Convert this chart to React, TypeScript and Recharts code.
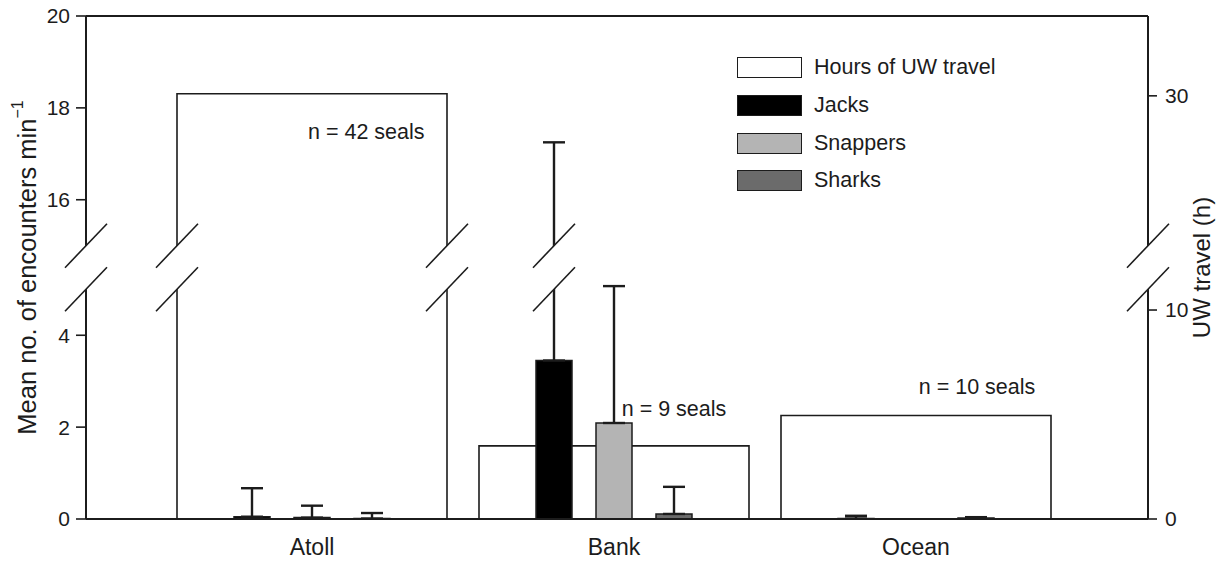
import React from "react";
import {
  ComposedChart,
  Bar,
  XAxis,
  YAxis,
  ErrorBar,
  ReferenceLine,
  ReferenceDot,
  Legend,
  Label,
  LabelList,
} from "recharts";

const sites = ["Atoll", "Bank", "Ocean"];
const seriesNames = ["Hours of UW travel", "Jacks", "Snappers", "Sharks"];
const travelHours = [30.1, 3.5, 4.95];
const jacksMean = [0.05, 3.45, 0.01];
const jacksUpper = [0.67, 17.25, 0.07];
const snappersMean = [0.03, 2.09, 0];
const snappersUpper = [0.29, 5.07, 0];
const sharksMean = [0.01, 0.11, 0.02];
const sharksUpper = [0.13, 0.7, 0.04];
const sealCounts = ["n = 42 seals", "n = 9 seals", "n = 10 seals"];
const leftTicks = [0, 2, 4, 16, 18, 20];
const rightTicks = [0, 10, 30];

// broken axes: left skips 5..15, right skips ~11..23
const L_CUT = 10;
const L_SHIFT = 9.05;
const L_MAX = 20 - L_SHIFT;
const GAP_LO = 5;
const GAP_HI = 15 - L_SHIFT;
const R_CUT = 20;
const R_SHIFT = 9.75;
const R_MAX = 24.07;

const toLeft = (v: number) => (v < L_CUT ? v : v - L_SHIFT);
const fromLeft = (t: number) => (t < GAP_LO + 0.5 ? t : t + L_SHIFT);
const toRight = (h: number) => (h < R_CUT ? h : h - R_SHIFT);
const fromRight = (u: number) => (u < 15 ? u : u + R_SHIFT);

const W = 1218;
const H = 562;
const MARGIN = { top: 16, right: 10, bottom: 3, left: 26 };
const AXIS_W = 60;
const X_AXIS_H = 40;
const PLOT_H = H - MARGIN.top - MARGIN.bottom - X_AXIS_H;
const PX_PER_UNIT = PLOT_H / L_MAX;
const WHITE_W = 270;
const BAR_W = 36;
const BAR_GAP = 24;
const INK = "#1c1c1c";
const FONT = "'Liberation Sans', Arial, Helvetica, sans-serif";
const BREAK_MID = (GAP_LO + GAP_HI) / 2;

const data = sites.map((site, i) => ({
  site,
  hours: toRight(travelHours[i]),
  jacks: toLeft(jacksMean[i]),
  jacksErr: [0, toLeft(jacksUpper[i]) - toLeft(jacksMean[i])],
  snappers: toLeft(snappersMean[i]),
  snappersErr: [0, toLeft(snappersUpper[i]) - toLeft(snappersMean[i])],
  sharks: toLeft(sharksMean[i]),
  sharksErr: [0, toLeft(sharksUpper[i]) - toLeft(sharksMean[i])],
  seals: sealCounts[i],
}));

// where the // marks go, besides the two axis lines
const breakMarks: { site: string; axis: string; dx: number }[] = [];
sites.forEach((site, i) => {
  if (travelHours[i] >= R_CUT) {
    breakMarks.push({ site, axis: "w", dx: -WHITE_W / 2 });
    breakMarks.push({ site, axis: "w", dx: WHITE_W / 2 });
  }
  [jacksUpper, snappersUpper, sharksUpper].forEach((arr, k) => {
    if (arr[i] >= L_CUT) breakMarks.push({ site, axis: "c", dx: (k - 1) * (BAR_W + BAR_GAP) });
  });
});

const sealLabelPos = [
  { dx: -4, dy: 45, anchor: "start" },
  { dx: 60, dy: -30, anchor: "middle" },
  { dx: 61, dy: -22, anchor: "middle" },
];

function BreakMark({ cx, cy }: { cx: number; cy: number }) {
  const half = ((GAP_HI - GAP_LO) / 2) * PX_PER_UNIT;
  const s = 21;
  const r = 22;
  const yHi = cy - half;
  const yLo = cy + half;
  return (
    <g>
      <polygon
        points={`${cx - s},${yHi + r} ${cx + s},${yHi - r} ${cx + s},${yLo - r} ${cx - s},${yLo + r}`}
        fill="#fff"
      />
      <line x1={cx - s} y1={yHi + r} x2={cx + s} y2={yHi - r} stroke={INK} strokeWidth={1.6} />
      <line x1={cx - s} y1={yLo + r} x2={cx + s} y2={yLo - r} stroke={INK} strokeWidth={1.6} />
    </g>
  );
}

const renderLegend = (props: any) => {
  const items = [...props.payload].sort(
    (a: any, b: any) => seriesNames.indexOf(a.value) - seriesNames.indexOf(b.value)
  );
  return (
    <div style={{ fontFamily: FONT, fontSize: 21.5, color: INK }}>
      {items.map((entry: any) => (
        <div key={entry.value} style={{ display: "flex", alignItems: "center", height: 37.7 }}>
          <span
            style={{
              boxSizing: "border-box",
              width: 65,
              height: 21,
              background: entry.color,
              border: `1.5px solid ${INK}`,
              marginRight: 12,
            }}
          />
          <span>{entry.value}</span>
        </div>
      ))}
    </div>
  );
};

const renderSealLabel = (props: any) => {
  const { x, y, width, value, index } = props;
  const pos = sealLabelPos[index];
  return (
    <text
      x={x + width / 2 + pos.dx}
      y={y + pos.dy}
      textAnchor={pos.anchor}
      fontSize={21.5}
      fontFamily={FONT}
      fill={INK}
    >
      {value}
    </text>
  );
};

const LeftTitle = (props: any) => {
  const { viewBox } = props;
  const cx = viewBox.x + 1;
  const cy = viewBox.y + viewBox.height / 2;
  return (
    <text
      x={cx}
      y={cy}
      transform={`rotate(-90 ${cx} ${cy})`}
      textAnchor="middle"
      dominantBaseline="central"
      fontSize={25.5}
      fontFamily={FONT}
      fill={INK}
    >
      Mean no. of encounters min
      <tspan dy={-10} fontSize={16}>
        −1
      </tspan>
    </text>
  );
};

const RightTitle = (props: any) => {
  const { viewBox } = props;
  const cx = viewBox.x + 53;
  const cy = viewBox.y + viewBox.height / 2;
  return (
    <text
      x={cx}
      y={cy}
      transform={`rotate(-90 ${cx} ${cy})`}
      textAnchor="middle"
      dominantBaseline="central"
      fontSize={24}
      fontFamily={FONT}
      fill={INK}
    >
      UW travel (h)
    </text>
  );
};

const tickStyle = { fill: INK, fontSize: 21, fontFamily: FONT };

export default function App() {
  return (
    <div
      style={{
        position: "absolute",
        left: 0,
        top: 0,
        width: W,
        height: H,
        background: "#fff",
        fontFamily: FONT,
      }}
    >
      <ComposedChart width={W} height={H} data={data} margin={MARGIN} barGap={BAR_GAP}>
        <XAxis
          xAxisId="c"
          dataKey="site"
          height={X_AXIS_H}
          padding={{ left: 75, right: 81 }}
          tickLine={false}
          tickSize={0}
          tickMargin={20}
          axisLine={{ stroke: INK, strokeWidth: 2 }}
          tick={{ ...tickStyle, fontSize: 23 }}
        />
        <XAxis xAxisId="w" dataKey="site" hide padding={{ left: 75, right: 81 }} />
        <YAxis
          yAxisId="left"
          width={AXIS_W}
          domain={[0, L_MAX]}
          allowDataOverflow
          ticks={leftTicks.map(toLeft)}
          interval={0}
          tickFormatter={(t: number) => String(Math.round(fromLeft(t)))}
          tickSize={10}
          tickMargin={6}
          axisLine={{ stroke: INK, strokeWidth: 2 }}
          tickLine={{ stroke: INK, strokeWidth: 1.6 }}
          tick={tickStyle}
        >
          <Label content={LeftTitle} />
        </YAxis>
        <YAxis
          yAxisId="right"
          orientation="right"
          width={AXIS_W}
          domain={[0, R_MAX]}
          allowDataOverflow
          ticks={rightTicks.map(toRight)}
          interval={0}
          tickFormatter={(u: number) => String(Math.round(fromRight(u)))}
          tickSize={9}
          tickMargin={8}
          axisLine={{ stroke: INK, strokeWidth: 2 }}
          tickLine={{ stroke: INK, strokeWidth: 1.6 }}
          tick={tickStyle}
        >
          <Label content={RightTitle} />
        </YAxis>
        <Legend
          layout="vertical"
          align="center"
          verticalAlign="middle"
          content={renderLegend}
          wrapperStyle={{ left: 737, top: 49, width: 320 }}
        />
        <Bar
          xAxisId="w"
          yAxisId="right"
          dataKey="hours"
          name={seriesNames[0]}
          barSize={WHITE_W}
          fill="#ffffff"
          stroke={INK}
          strokeWidth={1.6}
          isAnimationActive={false}
        >
          <LabelList dataKey="seals" content={renderSealLabel} />
        </Bar>
        <Bar
          xAxisId="c"
          yAxisId="left"
          dataKey="jacks"
          name={seriesNames[1]}
          barSize={BAR_W}
          fill="#000000"
          stroke={INK}
          strokeWidth={1.5}
          isAnimationActive={false}
        >
          <ErrorBar dataKey="jacksErr" direction="y" width={11} stroke={INK} strokeWidth={2.4} />
        </Bar>
        <Bar
          xAxisId="c"
          yAxisId="left"
          dataKey="snappers"
          name={seriesNames[2]}
          barSize={BAR_W}
          fill="#b4b4b4"
          stroke={INK}
          strokeWidth={1.5}
          isAnimationActive={false}
        >
          <ErrorBar dataKey="snappersErr" direction="y" width={11} stroke={INK} strokeWidth={2.4} />
        </Bar>
        <Bar
          xAxisId="c"
          yAxisId="left"
          dataKey="sharks"
          name={seriesNames[3]}
          barSize={BAR_W}
          fill="#6b6b6b"
          stroke={INK}
          strokeWidth={1.5}
          isAnimationActive={false}
        >
          <ErrorBar dataKey="sharksErr" direction="y" width={11} stroke={INK} strokeWidth={2.4} />
        </Bar>
        <ReferenceLine xAxisId="c" yAxisId="left" y={L_MAX} stroke={INK} strokeWidth={2} />
        <ReferenceLine
          xAxisId="c"
          yAxisId="left"
          y={BREAK_MID}
          zIndex={2500}
          shape={(p: any) => (
            <g>
              <BreakMark cx={p.x1} cy={p.y1} />
              <BreakMark cx={p.x2} cy={p.y2} />
            </g>
          )}
        />
        {breakMarks.map((b, i) => (
          <ReferenceDot
            key={i}
            xAxisId={b.axis}
            yAxisId="left"
            x={b.site}
            y={BREAK_MID}
            zIndex={2500}
            shape={(p: any) => <BreakMark cx={p.cx + b.dx} cy={p.cy} />}
          />
        ))}
      </ComposedChart>
    </div>
  );
}
